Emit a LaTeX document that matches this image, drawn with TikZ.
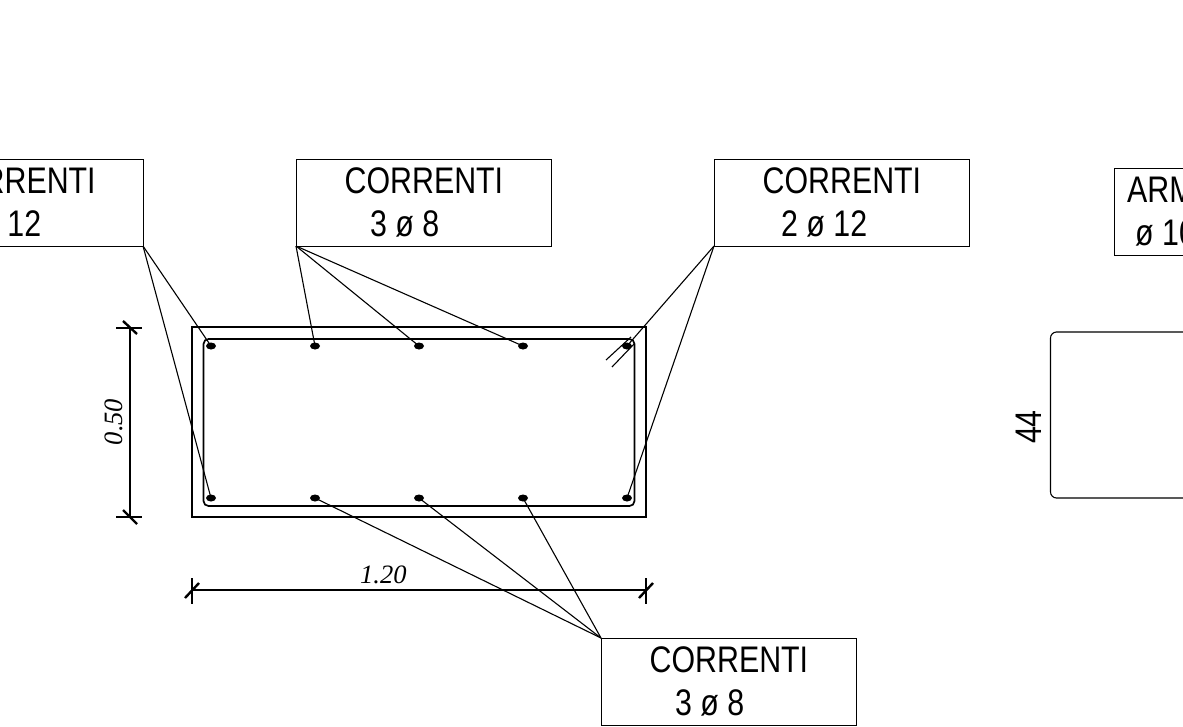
\documentclass[tikz,border=0pt]{standalone}
\usepackage{fontspec}
\usetikzlibrary{shapes.geometric}
\setmainfont{Liberation Sans}
\newfontfamily\labfont[FakeStretch=0.82]{Liberation Sans}
\newfontfamily\dimfont[Ligatures=TeX]{Liberation Serif}
\begin{document}
\begin{tikzpicture}[x=1pt,y=-1pt,
  boxnode/.style={draw,line width=1pt,rectangle,anchor=north west,minimum width=255pt,minimum height=87pt,inner sep=0pt,outer sep=0pt},
  lab/.style={anchor=base west,inner sep=0pt,font=\labfont\fontsize{37}{37}\selectfont},
  dimlab/.style={inner sep=0pt,font=\dimfont\itshape\fontsize{26.5}{26.5}\selectfont},
  bar/.style={ellipse,fill=black,draw=none,minimum width=10pt,minimum height=7pt,inner sep=0pt,outer sep=0pt},
  leader/.style={line width=1.1pt},
  thin line/.style={line width=1.1pt},
  slash/.style={line width=2.4pt},
]
\useasboundingbox (0,0) rectangle (1183,726);
\clip (0,0) rectangle (1183,726);
% section outline
\draw[thin line] (192,327) rectangle (646,517);
\draw[line width=1.7pt,rounded corners=5pt] (203.5,339) rectangle (634.5,506);
% rebars
\foreach \n/\x in {a/211,b/315,c/419,d/523,e/627}{
  \node[bar] (t\n) at (\x,346) {};
  \node[bar] (u\n) at (\x,498) {};
}
% label boxes
\node[boxnode] (bl) at (-112,159) {};
\node[boxnode] (bm) at (296,159) {};
\node[boxnode] (br) at (714,159) {};
\node[boxnode] (bb) at (601,638) {};
\node[boxnode] (ba) at (1114,168) {};
% labels
\node[lab] (l1) at (-63,193) {CORRENTI};
\node[lab] (l2) at (-45,236) {2 ø 12};
\node[lab] (m1) at (344.5,193) {CORRENTI};
\node[lab] (m2) at (370,236) {3 ø 8};
\node[lab] (r1) at (762.5,193) {CORRENTI};
\node[lab] (r2) at (781,236) {2 ø 12};
\node[lab] (b1) at (649.5,672) {CORRENTI};
\node[lab] (b2) at (675,715) {3 ø 8};
\node[lab] (a1) at (1127,202) {ARM};
\node[lab] (a2) at (1135,245) {ø 10};
% leaders
\draw[leader] (bl.south east) -- (ta.center);
\draw[leader] (bl.south east) -- (ua.center);
\draw[leader] (bm.south west) -- (tb.center);
\draw[leader] (bm.south west) -- (tc.center);
\draw[leader] (bm.south west) -- (td.center);
\draw[leader] (br.south west) -- (te.center);
\draw[leader] (br.south west) -- (ue.center);
\draw[leader] (bb.north west) -- (ub.center);
\draw[leader] (bb.north west) -- (uc.center);
\draw[leader] (bb.north west) -- (ud.center);
% double tick at corner bar
\coordinate (k1a) at (606,360); \coordinate (k1b) at (631,337);
\coordinate (k2a) at (612,367); \coordinate (k2b) at (634,344);
\draw[leader] (k1a) -- (k1b);
\draw[leader] (k2a) -- (k2b);
% vertical dimension
\coordinate (v1) at (130,328); \coordinate (v2) at (130,517);
\draw[thin line] (v1) -- (v2);
\draw[thin line] (116,328) -- (142,328);
\draw[thin line] (116,517) -- (142,517);
\draw[slash] (123,321) -- (137,334);
\draw[slash] (123,510) -- (137,524);
\node[dimlab,rotate=90] (d1) at (114,422) {0.50};
% horizontal dimension
\coordinate (h1) at (192,590); \coordinate (h2) at (646,590);
\draw[thin line] (h1) -- (h2);
\draw[thin line] (192,578) -- (192,604);
\draw[thin line] (646,578) -- (646,604);
\draw[slash] (185,598) -- (199,583);
\draw[slash] (639,598) -- (653,583);
\node[dimlab,anchor=base west] (d2) at (360,583) {1.20};
% stirrup
\draw[thin line,rounded corners=6pt] (1190,332) -- (1050.5,332) -- (1050.5,498) -- (1190,498);
\node[lab,rotate=90,anchor=base] (s1) at (1041,427) {44};
\end{tikzpicture}
\end{document}
